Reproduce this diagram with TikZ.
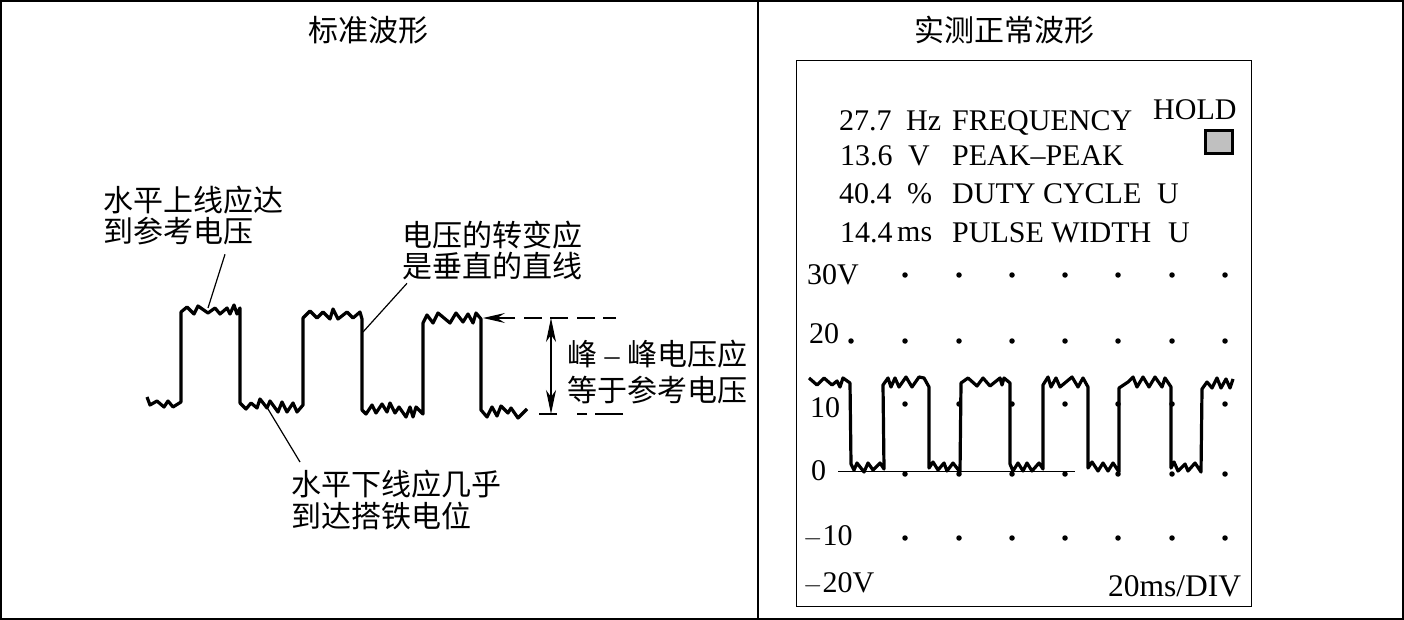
\documentclass[tikz,border=0pt]{standalone}
\usepackage{fontspec}
\setmainfont{Liberation Serif}
\newfontfamily\cjk{Noto Sans CJK SC}
\usetikzlibrary{arrows.meta}
\tikzset{
  title/.style={font=\cjk\fontsize{30}{31}\selectfont,inner sep=0pt},
  note/.style={font=\cjk\fontsize{30}{31}\selectfont,inner sep=0pt,align=left,anchor=north west},
  reading/.style={font=\fontsize{30}{32}\selectfont,inner sep=0pt,anchor=base west},
  frameline/.style={line width=2.6pt},
  wave/.style={line width=3.2pt,line join=round},
  leader/.style={line width=1.2pt},
  griddot/.style={fill,circle,inner sep=0pt,minimum size=5.5pt}
}
\begin{document}
\begin{tikzpicture}[x=1pt,y=-1pt]
  \useasboundingbox (0,0) rectangle (1404,620);
  \draw[frameline] (1,1) rectangle (1403,619);
  \draw[frameline] (758,0) -- (758,620);
  \node[title] (stdtitle) at (368,30) {标准波形};
  \node[title] (realtitle) at (1004,30) {实测正常波形};

  \node[note] (uplabel) at (103,186) {水平上线应达\\到参考电压};
  \node[note] (slopelabel) at (402,221) {电压的转变应\\是垂直的直线};
  \node[note,font=\cjk\fontsize{30}{32}\selectfont] (lowlabel) at (291,470) {水平下线应几乎\\到达搭铁电位};
  \node[note,font=\cjk\fontsize{30}{36}\selectfont] (peaklabel) at (567,340) {峰\makebox[30pt]{\rmfamily –}峰电压应\\等于参考电压};

  \draw[wave] (147,397) -- (150,405) -- (157,401) -- (164,407) -- (168,401) -- (173,407) -- (181,402)
    -- (181,312) -- (187,307) -- (194,314) -- (198,306) -- (208,313) -- (215,308) -- (220,314)
    -- (227,308) -- (230,314) -- (234,305) -- (237,314) -- (240,308)
    -- (240,403) -- (246,409) -- (251,403) -- (257,408) -- (260,399) -- (267,408) -- (270,401)
    -- (278,412) -- (282,402) -- (287,412) -- (293,403) -- (297,412) -- (303,405)
    -- (303,318) -- (310,311) -- (317,318) -- (323,312) -- (330,319) -- (333,309) -- (338,319)
    -- (347,312) -- (353,318) -- (360,312) -- (362,319)
    -- (362,410) -- (366,414) -- (372,405) -- (376,413) -- (382,404) -- (387,412) -- (390,403)
    -- (395,413) -- (399,407) -- (406,417) -- (410,407) -- (413,417) -- (416,407) -- (423,414)
    -- (423,323) -- (427,315) -- (433,323) -- (438,313) -- (450,323) -- (456,313) -- (463,322)
    -- (468,314) -- (473,323) -- (476,313) -- (481,319)
    -- (481,410) -- (487,417) -- (492,407) -- (497,416) -- (501,406) -- (508,413) -- (511,408)
    -- (518,418) -- (527,409);

  \coordinate (uptip) at (208,308);
  \coordinate (slopetip) at (363,332);
  \coordinate (lowtip) at (268,409);
  \coordinate (toptip) at (483,318);
  \coordinate (topend) at (616,318);
  \coordinate (baseend) at (623,414);
  \coordinate (basestart) at (539,414);
  \coordinate (spantop) at (551,318);
  \coordinate (spanbase) at (551,414);
  \draw[leader] ([shift={(122,9)}]uplabel.south west) -- (uptip);
  \draw[leader] ([shift={(5,3)}]slopelabel.south west) -- (slopetip);
  \draw[leader] ([shift={(9,-8)}]lowlabel.north west) -- (lowtip);
  \draw[leader,dash pattern=on 18pt off 8.5pt,dash phase=5pt,-{Stealth[length=22pt,width=10pt,inset=8pt]}] (topend) -- (toptip);
  \draw[leader,dash pattern=on 28pt off 8pt on 10pt off 20pt on 18pt off 10pt] (baseend) -- (basestart);
  \draw[leader,{Stealth[length=24pt,width=10pt,inset=7pt]}-{Stealth[length=24pt,width=10pt,inset=7pt]}] (spantop) -- (spanbase);

  \draw[line width=0.9pt] (796.5,60) rectangle (1251,606);
  \node[reading] (freqval) at (839,131) {27.7};
  \node[reading] (frequnit) at (906,131) {Hz};
  \node[reading] (freqname) at (952,131) {FREQUENCY};
  \node[reading] (peakval) at (840,166) {13.6};
  \node[reading] (peakunit) at (908,166) {V};
  \node[reading] (peakname) at (952,166) {PEAK--PEAK};
  \node[reading] (dutyval) at (839,204) {40.4};
  \node[reading] (dutyunit) at (907,204) {\%};
  \node[reading] (dutyname) at (952,204) {DUTY CYCLE};
  \node[reading] (dutyflag) at (1157,204) {U};
  \node[reading] (pulseval) at (840,243) {14.4};
  \node[reading] (pulseunit) at (897,241) {ms};
  \node[reading] (pulsename) at (952,243) {PULSE WIDTH};
  \node[reading] (pulseflag) at (1168,243) {U};
  \node[reading] (hold) at (1153,120) {HOLD};
  \draw[line width=3.2pt,fill={rgb,255:red,192;green,192;blue,192}] (1205.5,130.5) rectangle (1232.5,153.5);

  \node[reading] (volt30) at (807,284) {30V};
  \node[reading] (volt20) at (809,343) {20};
  \node[reading] (volt10) at (810,417) {10};
  \node[reading] (volt0) at (811,480) {0};
  \node[reading] (voltm10) at (803,545) {$-$10};
  \node[reading] (voltm20) at (803,592) {$-$20V};
  \node[reading,font=\fontsize{31.5}{32}\selectfont] (timebase) at (1108,596) {20ms/DIV};

  \foreach \y in {275,341,404,474,538}
    \foreach \x in {905,959,1012,1065,1118,1172,1225}
      \node[griddot] at (\x,\y) {};
  \node[griddot] at (851,341) {};

  \draw[line width=1pt] (838,471) -- (1075,471);
  \draw[wave] (809,378) -- (817,385) -- (824,378) -- (832,385) -- (837,381) -- (840,387) -- (843,378) -- (850,383)
    -- (851,464) -- (854,470) -- (857,463) -- (864,472) -- (868,463) -- (873,470) -- (880,463) -- (884,469)
    -- (883,385) -- (888,378) -- (891,387) -- (895,378) -- (899,387) -- (906,377) -- (912,387) -- (919,377) -- (924,378) -- (929,387)
    -- (929,468) -- (933,462) -- (938,470) -- (944,463) -- (947,471) -- (953,463) -- (960,472)
    -- (961,383) -- (968,378) -- (977,386) -- (983,378) -- (990,386) -- (1000,378) -- (1002,385) -- (1004,378) -- (1010,383)
    -- (1010,464) -- (1013,471) -- (1018,463) -- (1023,471) -- (1027,463) -- (1032,471) -- (1039,463) -- (1043,469)
    -- (1043,385) -- (1048,377) -- (1051,387) -- (1056,378) -- (1060,387) -- (1072,377) -- (1078,387) -- (1083,378) -- (1088,387)
    -- (1088,468) -- (1092,462) -- (1098,471) -- (1103,463) -- (1108,471) -- (1113,463) -- (1119,472)
    -- (1119,388) -- (1128,382) -- (1133,377) -- (1137,387) -- (1143,377) -- (1149,387) -- (1155,377) -- (1162,387) -- (1165,378) -- (1171,387)
    -- (1171,468) -- (1174,462) -- (1178,471) -- (1185,464) -- (1188,471) -- (1195,463) -- (1201,472)
    -- (1202,389) -- (1207,382) -- (1212,388) -- (1217,378) -- (1221,388) -- (1226,379) -- (1230,388) -- (1233,379);
\end{tikzpicture}
\end{document}
